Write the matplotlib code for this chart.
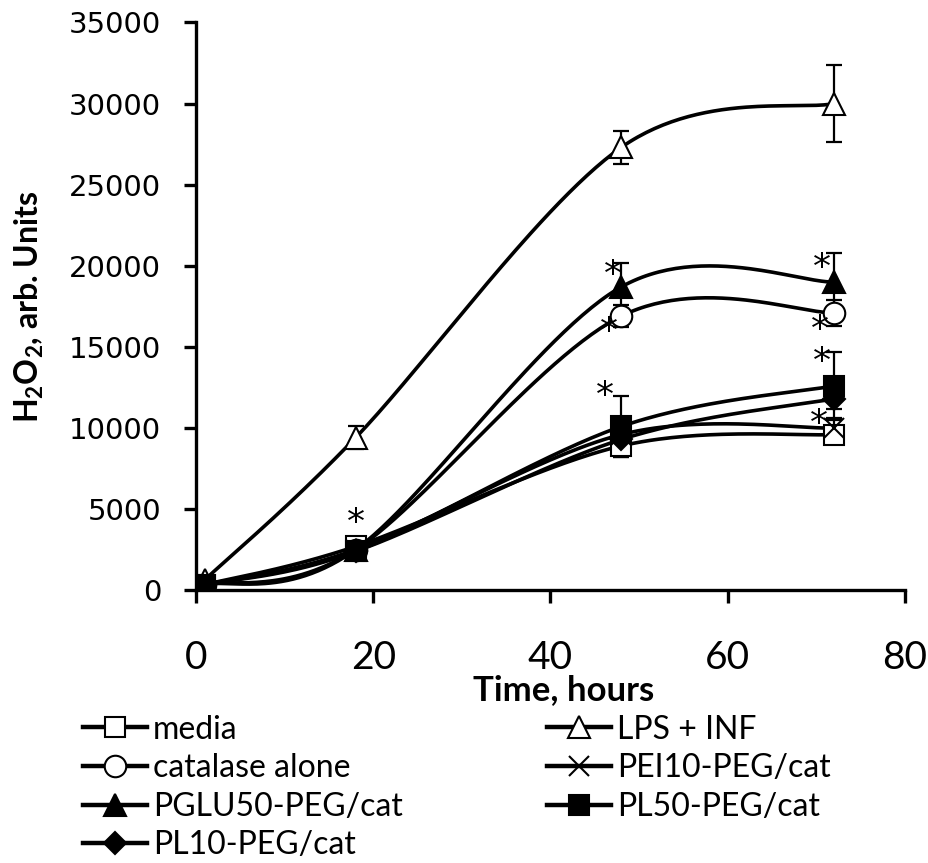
import numpy as np
import matplotlib.pyplot as plt

plt.rcParams["mathtext.fontset"] = "custom"
plt.rcParams["mathtext.rm"] = "Lato"
plt.rcParams["mathtext.bf"] = "Lato:bold"

# time points (hours)
hours = [1, 18, 48, 72]

# H2O2 readings, arbitrary units, with error bar half-widths
media = [350, 2700, 8900, 9600]
media_err = [100, 200, 700, 400]
lps_inf = [650, 9400, 27300, 30000]
lps_inf_err = [100, 700, 1000, 2400]
catalase = [350, 2500, 16900, 17100]
catalase_err = [100, 200, 700, 800]
pei10 = [350, 2500, 9600, 10000]
pei10_err = [100, 200, 600, 600]
pglu50 = [350, 2500, 18700, 19000]
pglu50_err = [100, 200, 1500, 1800]
pl50 = [350, 2400, 10100, 12600]
pl50_err = [100, 200, 1900, 2100]
pl10 = [350, 2400, 9300, 11800]
pl10_err = [100, 200, 600, 600]

# significance marks (x, y)
stars_x = [18, 47, 46.6, 46.2, 70.6, 70.4, 70.6, 70.3]
stars_y = [4900, 20200, 16700, 12700, 20600, 16800, 14800, 11000]


def smooth(xs, ys, n=60):
    # spreadsheet-style smoothed line: cubic bezier, tangents from neighbours / 6
    xs = np.asarray(xs, float)
    ys = np.asarray(ys, float)
    pts = np.column_stack([xs, ys])
    out = []
    for i in range(len(pts) - 1):
        p0 = pts[max(i - 1, 0)]
        p1 = pts[i]
        p2 = pts[i + 1]
        p3 = pts[min(i + 2, len(pts) - 1)]
        c1 = p1 + (p2 - p0) / 6
        c2 = p2 - (p3 - p1) / 6
        t = np.linspace(0, 1, n)[:, None]
        seg = ((1 - t) ** 3) * p1 + 3 * ((1 - t) ** 2) * t * c1 + 3 * (1 - t) * t ** 2 * c2 + t ** 3 * p2
        out.append(seg)
    out = np.vstack(out)
    return out[:, 0], out[:, 1]


fig = plt.figure(figsize=(9.29, 8.63), dpi=100)
ax = fig.add_axes([0.211, 0.316, 0.763, 0.658])

series = [
    ("media", media, media_err, "s", "white"),
    ("catalase alone", catalase, catalase_err, "o", "white"),
    ("PGLU50-PEG/cat", pglu50, pglu50_err, "^", "black"),
    ("PL10-PEG/cat", pl10, pl10_err, "D", "black"),
    ("LPS + INF", lps_inf, lps_inf_err, "^", "white"),
    ("PEI10-PEG/cat", pei10, pei10_err, "x", "black"),
    ("PL50-PEG/cat", pl50, pl50_err, "s", "black"),
]
sizes = {"s": 15, "o": 15.5, "^": 15.5, "D": 11.5, "x": 14}

handles = []
for name, vals, err, mk, face in series:
    sx, sy = smooth(hours, vals)
    ax.plot(sx, sy, color="black", lw=2.6, zorder=2)
    ax.errorbar(hours, vals, yerr=err, fmt="none", ecolor="black",
                elinewidth=1.6, capsize=5.5, capthick=1.6, zorder=3)
    ax.plot(hours, vals, linestyle="none", marker=mk, markersize=sizes[mk],
            markerfacecolor=face, markeredgecolor="black",
            markeredgewidth=1.5, zorder=4)
    # legend handle: thick line through the marker
    lh, = ax.plot([], [], color="black", lw=3.2, marker=mk, markersize=sizes[mk],
                  markerfacecolor=face, markeredgecolor="black", markeredgewidth=1.5,
                  label=name)
    handles.append(lh)

for sx_, sy_ in zip(stars_x, stars_y):
    ax.annotate("*", (sx_, sy_), xytext=(0, -16), textcoords="offset points",
                ha="center", va="baseline", fontsize=26, zorder=5)

ax.set_xlim(0, 80)
ax.set_ylim(0, 35000)
ax.set_xticks([0, 20, 40, 60, 80])
ax.set_yticks(np.arange(0, 35001, 5000))
for s in ["top", "right"]:
    ax.spines[s].set_visible(False)
for s in ["left", "bottom"]:
    ax.spines[s].set_linewidth(2.4)

ax.tick_params(axis="y", direction="out", length=9, width=2.4, labelsize=21, pad=16)
ax.tick_params(axis="x", direction="out", length=9, width=2.4, pad=27)
for lab in ax.get_xticklabels():
    lab.set_fontfamily("Lato")
    lab.set_fontsize(28)

ax.set_xlabel("Time, hours", fontfamily="Lato", fontweight="bold", fontsize=25, va="top")
ax.xaxis.set_label_coords(0.519, -0.148)
ax.set_ylabel("H$_\\mathbf{2}$O$_\\mathbf{2}$, arb. Units", fontfamily="Lato",
              fontweight="bold", fontsize=23)
ax.yaxis.set_label_coords(-0.212, 0.5)

leg_style = dict(loc="upper left", frameon=False, prop={"family": "Lato", "size": 23},
                 handlelength=2.0, handletextpad=0.2, labelspacing=0.27,
                 borderaxespad=0, borderpad=0)
fig.legend(handles=handles[:4], bbox_to_anchor=(0.089, 0.172), **leg_style)
fig.legend(handles=handles[4:], bbox_to_anchor=(0.589, 0.172), **leg_style)

fig.savefig("out.png", dpi=100)
